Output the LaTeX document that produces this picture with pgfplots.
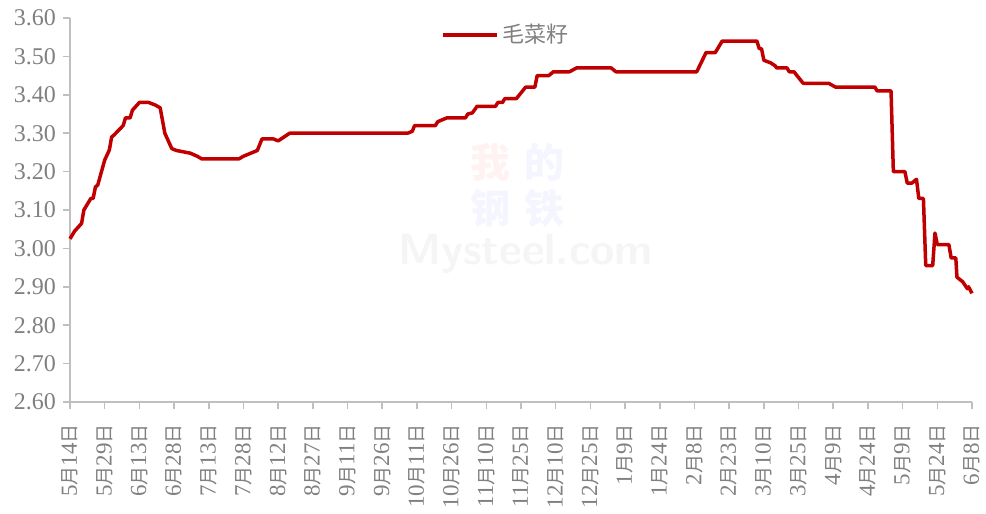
\documentclass[border=0pt]{standalone}
\usepackage{pgfplots}
\pgfplotsset{compat=1.18}
\usepackage{fontspec}
\setmainfont{Liberation Serif}
\newfontfamily\cjk{Noto Sans CJK SC}
\newfontfamily\cjkl{Noto Sans CJK SC}
\definecolor{linered}{HTML}{C00000}
\definecolor{txtgray}{HTML}{808080}
\definecolor{axgray}{HTML}{BFBFBF}
\newcommand{\Y}{{\cjk\fontsize{9.5pt}{10pt}\selectfont 月}}
\newcommand{\R}{{\cjk\fontsize{9.5pt}{10pt}\selectfont 日}}
\begin{document}
\begin{tikzpicture}
\useasboundingbox (-35pt,-56pt) rectangle (458pt,201pt);
\begin{axis}[
  at={(0,0)}, anchor=south west,
  scale only axis, width=451pt, height=192pt,
  xmin=0, xmax=390, ymin=2.6, ymax=3.6,
  axis x line*=bottom, axis y line*=left,
  axis line style={axgray, line width=0.8pt, -},
  tick style={axgray, line width=0.8pt},
  tick align=outside, major tick length=3.5pt,
  xtick={0,15,...,390},
  xticklabels={5\Y14\R,5\Y29\R,6\Y13\R,6\Y28\R,7\Y13\R,7\Y28\R,8\Y12\R,8\Y27\R,9\Y11\R,9\Y26\R,10\Y11\R,10\Y26\R,11\Y10\R,11\Y25\R,12\Y10\R,12\Y25\R,1\Y9\R,1\Y24\R,2\Y8\R,2\Y23\R,3\Y10\R,3\Y25\R,4\Y9\R,4\Y24\R,5\Y9\R,5\Y24\R,6\Y8\R},
  xticklabel style={rotate=90, anchor=east, font=\fontsize{11.5pt}{12pt}\selectfont, text=txtgray, inner ysep=1.5pt, inner xsep=7.5pt},
  ytick={2.6,2.7,...,3.61},
  /pgf/number format/fixed, /pgf/number format/fixed zerofill,
  /pgf/number format/precision=2, /pgf/number format/assume math mode=true,
  yticklabel style={font=\fontsize{12pt}{13pt}\selectfont, text=txtgray},
  legend style={at={(0.484,0.956)}, anchor=center, draw=none, fill=none,
    font=\cjkl\fontsize{11pt}{12pt}\selectfont, text=txtgray},
  legend image code/.code={\draw[#1] (0pt,0pt) -- (27pt,0pt);},
  clip=false,
]
\node[text=black!4, font=\sffamily\bfseries\fontsize{22pt}{24pt}\selectfont] at (axis cs:197,2.985) {Mysteel.com};
\node[text=red!5, font=\cjk\bfseries\fontsize{20pt}{21pt}\selectfont] at (axis cs:182,3.225) {我};
\node[text=blue!4, font=\cjk\bfseries\fontsize{20pt}{21pt}\selectfont] at (axis cs:205,3.225) {的};
\node[text=blue!4, font=\cjk\bfseries\fontsize{20pt}{21pt}\selectfont] at (axis cs:182,3.105) {钢};
\node[text=blue!4, font=\cjk\bfseries\fontsize{20pt}{21pt}\selectfont] at (axis cs:205,3.105) {铁};
\addplot[linered, line width=1.75pt, line join=round] coordinates {
(0,3.025) (2,3.045) (5,3.065) (6,3.10) (9,3.13) (10,3.13) (11,3.16) (12,3.165)
(15,3.23) (17,3.256) (18,3.29) (19,3.295) (23,3.32) (24,3.34) (26,3.34) (27,3.36)
(30,3.38) (34,3.38) (37,3.373) (39,3.366) (41,3.30) (44,3.26) (46,3.255) (52,3.248)
(55,3.24) (57,3.233) (73,3.233) (75,3.24) (79,3.25) (81,3.255) (83,3.285) (88,3.285)
(90,3.28) (93,3.292) (95,3.30) (96,3.30) (146,3.30) (148,3.305) (149,3.32) (158,3.32)
(159,3.33) (163,3.34) (171,3.34) (172,3.35) (174,3.353) (176,3.37) (184,3.37) (185,3.38)
(187,3.38) (188,3.39) (193,3.39) (195,3.405) (197,3.42) (201,3.42) (202,3.45) (207,3.45)
(209,3.46) (216,3.46) (219,3.47) (234,3.47) (236,3.46) (271,3.46) (275,3.51) (279,3.51)
(282,3.54) (297,3.54) (298,3.52) (299,3.52) (300,3.49) (303,3.483) (305,3.475) (305.5,3.47)
(310,3.47) (311,3.46) (313,3.46) (317,3.43) (328,3.43) (331,3.42) (348,3.42) (349,3.41)
(355,3.41) (356,3.20) (361,3.20) (362,3.17) (364,3.17) (366,3.18) (367,3.13) (369,3.13)
(370,2.955) (373,2.955) (374,3.04) (375,3.01) (380,3.01) (381,2.975) (383,2.975) (383.5,2.925)
(386,2.913) (388,2.895) (388.5,2.90) (390,2.883)
};
\addlegendentry{毛菜籽}
\end{axis}
\end{tikzpicture}
\end{document}
